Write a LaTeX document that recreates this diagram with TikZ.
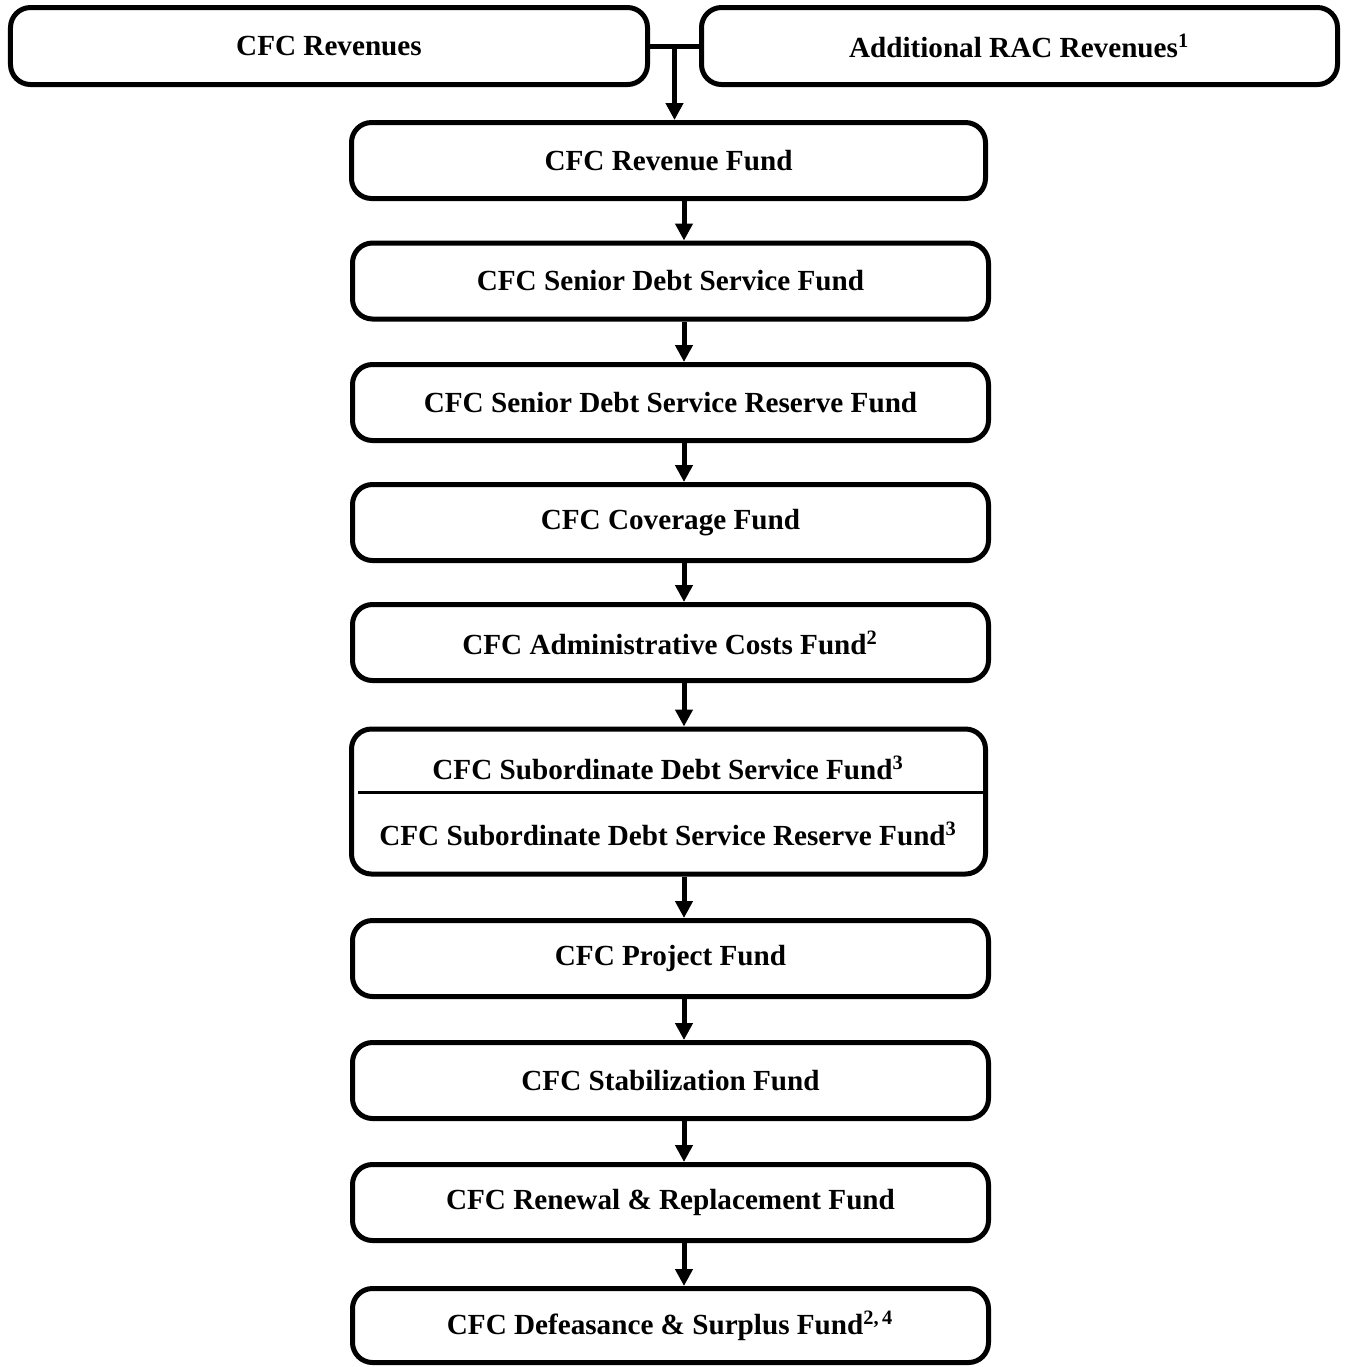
\documentclass[tikz,border=0pt]{standalone}
\usepackage{fontspec}
\setmainfont{Liberation Serif}
\usetikzlibrary{arrows.meta,calc}

\begin{document}
\begin{tikzpicture}[
  % --- common look of the fund boxes
  fundbox/.style={draw, line width=0.05cm, rounded corners=0.2cm,
    minimum width=6.36cm, minimum height=0.76cm, inner sep=0pt,
    font=\fontsize{8.3}{10}\selectfont\bfseries},
  fundtext/.style={inner sep=0pt, font=\fontsize{8.3}{10}\selectfont\bfseries},
  flow/.style={line width=0.05cm, -{Triangle[width=0.17cm,length=0.17cm]}},
]
\useasboundingbox (0,0) rectangle (13.46,-13.67);

%========================
% Sources of revenue
%========================
\node[fundbox, minimum width=6.37cm, minimum height=0.77cm] (rev) at (3.29,-0.46) {CFC Revenues};
\node[fundbox, minimum height=0.77cm] (rac) at (10.195,-0.46) {Additional RAC Revenues\textsuperscript{1}};

%========================
% Flow of funds
%========================
\node[fundbox, minimum width=6.34cm] (revfund) at (6.685,-1.605) {CFC Revenue Fund};
\node[fundbox] (senior)   at (6.705,-2.81)  {CFC Senior Debt Service Fund};
\node[fundbox] (seniorres) at (6.705,-4.025) {CFC Senior Debt Service Reserve Fund};
\node[fundbox] (coverage) at (6.705,-5.225) {CFC Coverage Fund};
\node[fundbox] (admin)    at (6.705,-6.425) {CFC Administrative Costs Fund\textsuperscript{2}};

% subordinate box holds two funds
\node[fundbox, minimum width=6.34cm, minimum height=1.45cm] (sub) at (6.685,-8.015) {};
\node[fundtext] (subdebt) at (6.685,-7.68) {CFC Subordinate Debt Service Fund\textsuperscript{3}};
\node[fundtext] (subres)  at (6.685,-8.34) {CFC Subordinate Debt Service Reserve Fund\textsuperscript{3}};
\coordinate (divL) at (3.58,-7.925);
\draw[line width=0.03cm] (divL) -- (divL -| sub.east);

\node[fundbox] (project)  at (6.705,-9.585)  {CFC Project Fund};
\node[fundbox] (stabil)   at (6.705,-10.805) {CFC Stabilization Fund};
\node[fundbox] (renewal)  at (6.705,-12.025) {CFC Renewal \& Replacement Fund};
\node[fundbox, minimum height=0.74cm] (defease) at (6.705,-13.255) {CFC Defeasance \& Surplus Fund\textsuperscript{2,\,4}};

% --- connectors
\coordinate (spine) at (6.84,0);
\coordinate (join) at ($(rev.east)!0.5!(rac.west)$);
\draw[line width=0.05cm] (rev.east) -- (rac.west);
\draw[flow] (join) -- (join |- revfund.north);
\foreach \a/\b in {revfund/senior, senior/seniorres, seniorres/coverage,
  coverage/admin, admin/sub, sub/project, project/stabil,
  stabil/renewal, renewal/defease}
  \draw[flow] (\a.south -| spine) -- (\b.north -| spine);

\end{tikzpicture}
\end{document}
